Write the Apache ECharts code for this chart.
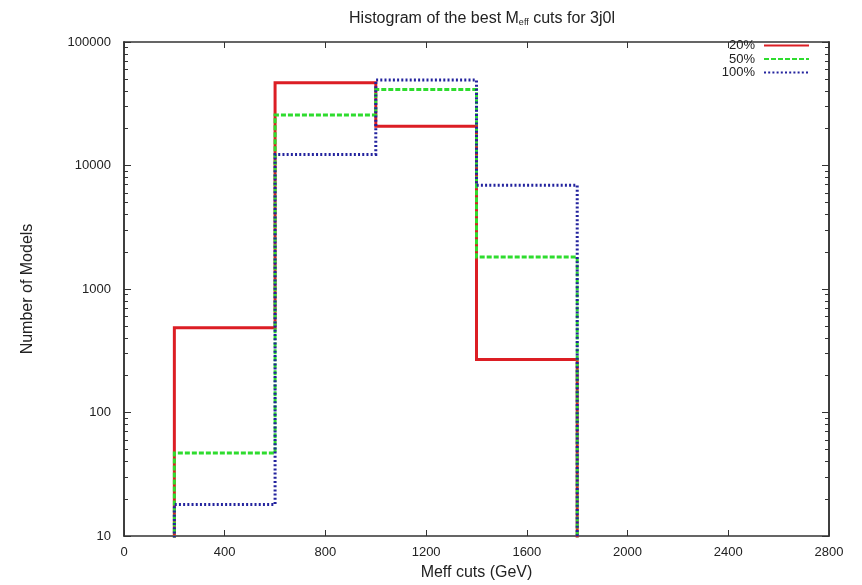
<!DOCTYPE html>
<html>
<head>
<meta charset="utf-8">
<script src="https://cdn.jsdelivr.net/npm/echarts@6/dist/echarts.min.js"></script>
<style>html,body{margin:0;padding:0;background:#fff;}#c{width:862px;height:585px;}</style>
</head>
<body>
<div id="c"></div>
<script>
// Bin edges (GeV) and counts per series
const binEdges = [200, 600, 1000, 1400, 1800];
const seriesNames = ['20%', '50%', '100%'];
const counts20 = [485, 46800, 20800, 269];
const counts50 = [47, 25600, 41300, 1815];
const counts100 = [18, 12300, 49200, 6920];
const xTicks = [0, 400, 800, 1200, 1600, 2000, 2400, 2800];
const yMajorTicks = [10, 100, 1000, 10000, 100000];
const yMinorTicks = [20,30,40,50,60,70,80,90,200,300,400,500,600,700,800,900,2000,3000,4000,5000,6000,7000,8000,9000,20000,30000,40000,50000,60000,70000,80000,90000];

const FLOOR = 1; // below the axis minimum; clipped by the grid (empty bins)
function stepData(vals) {
  const pts = [[binEdges[0], FLOOR]];
  vals.forEach((v, i) => { pts.push([binEdges[i], v]); pts.push([binEdges[i + 1], v]); });
  pts.push([binEdges[binEdges.length - 1], FLOOR]);
  return pts;
}

const colors = ['#dc1e24', '#2edc2e', '#23239e'];
const dashes = ['solid', [5, 2], [2, 2.2]];
const allCounts = [counts20, counts50, counts100];

const frame = '#333';
const txt = '#222';
const font = 'Liberation Sans, Arial, sans-serif';
const plain = v => String(Math.round(v));

function yAxisDef(pos, ticks, len, labels) {
  return {
    type: 'log', logBase: 10, min: 10, max: 100000, position: pos,
    axisLine: { show: true, lineStyle: { color: frame, width: 1.5 } },
    axisTick: { show: true, inside: true, length: len, customValues: ticks, lineStyle: { color: frame, width: 1 } },
    axisLabel: { show: labels, customValues: yMajorTicks, color: txt, fontSize: 13, fontFamily: font, margin: 13, formatter: plain },
    splitLine: { show: false }, minorTick: { show: false }
  };
}

const chart = echarts.init(document.getElementById('c'), null, { renderer: 'canvas' });
chart.setOption({
  animation: false,
  backgroundColor: '#fff',
  title: {
    text: 'Histogram of the best M{s|eff} cuts for 3j0l',
    left: 477, top: 5, textAlign: 'center',
    textStyle: {
      fontFamily: font, fontSize: 16, fontWeight: 'normal', color: '#222',
      rich: { s: { fontSize: 9, fontFamily: font, color: '#222', verticalAlign: 'bottom', padding: [8, 0, 0, 0] } }
    }
  },
  legend: seriesNames.map((n, i) => ({
    data: [n], orient: 'vertical', align: 'right', right: 52, top: 39 + i * 13.5,
    itemWidth: 45, itemHeight: 8, itemGap: 0, padding: 0,
    itemStyle: { opacity: 0 },
    textStyle: { fontFamily: font, fontSize: 13, color: txt, padding: [0, 4, 0, 0] }
  })),
  grid: { left: 124, right: 33, top: 42, bottom: 49, containLabel: false, outerBoundsMode: 'none' },
  xAxis: [
    {
      type: 'value', min: 0, max: 2800, interval: 400, position: 'bottom',
      name: 'Meff cuts (GeV)', nameLocation: 'middle', nameGap: 29,
      nameTextStyle: { fontFamily: font, fontSize: 16, color: txt, verticalAlign: 'top' },
      axisLine: { show: true, lineStyle: { color: frame, width: 1.5 } },
      axisTick: { show: true, inside: true, length: 6, lineStyle: { color: frame } },
      axisLabel: { color: txt, fontSize: 13, fontFamily: font, margin: 10, customValues: xTicks, formatter: plain },
      splitLine: { show: false }
    },
    {
      type: 'value', min: 0, max: 2800, interval: 400, position: 'top',
      axisLine: { show: true, lineStyle: { color: frame, width: 1.5 } },
      axisTick: { show: true, inside: true, length: 6, lineStyle: { color: frame } },
      axisLabel: { show: false }, splitLine: { show: false }
    }
  ],
  yAxis: [
    Object.assign(yAxisDef('left', yMajorTicks, 7, true), {
      name: 'Number of Models', nameLocation: 'middle', nameGap: 88, nameRotate: 90,
      nameTextStyle: { fontFamily: font, fontSize: 16, color: txt }
    }),
    yAxisDef('left', yMinorTicks, 4, false),
    yAxisDef('right', yMajorTicks, 7, false),
    yAxisDef('right', yMinorTicks, 4, false)
  ],
  series: allCounts.map((vals, i) => ({
    name: seriesNames[i], type: 'line', xAxisIndex: 0, yAxisIndex: 0,
    data: stepData(vals), showSymbol: false, symbol: 'none', clip: true,
    color: colors[i],
    lineStyle: { color: colors[i], width: 3, type: dashes[i], cap: 'butt', join: 'miter' },
    z: 2 + i
  }))
});
</script>
</body>
</html>
